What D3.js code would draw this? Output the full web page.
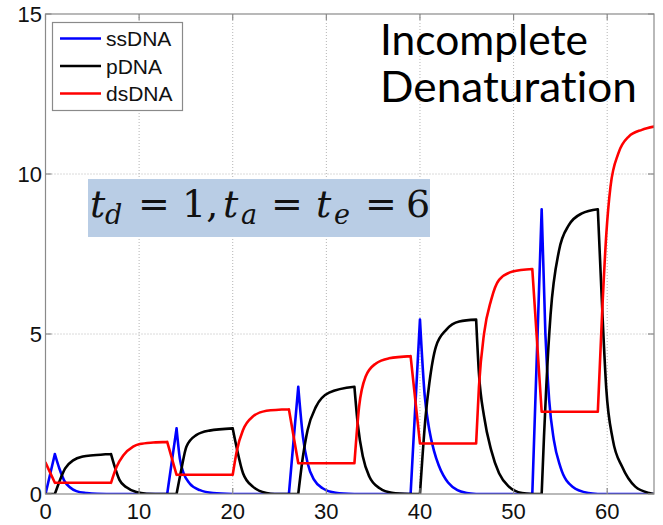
<!DOCTYPE html>
<html>
<head>
<meta charset="utf-8">
<script src="https://d3js.org/d3.v7.min.js"></script>
<style>
  body { margin: 0; background: #fff; }
  svg { display: block; }
</style>
</head>
<body>
<svg id="chart" width="663" height="525"></svg>
<script>
// Cycle phase boundaries (denaturation / annealing / extension)
const phaseTimes = [0, 1, 7, 13, 14, 20, 26, 27, 33, 39, 40, 46, 52, 53, 59, 65];

// Series values, [time, amount]
const ssDNA = [
    [0, 0], [1, 1.25], [1.5, 0.78], [2, 0.42], [2.6, 0.21], [3.3, 0.09], [4.4, 0.03], [5.5, 0.005], [7, 0], [13, 0],
    [14, 2.05], [14.35, 1.11], [14.75, 0.65], [15.4, 0.33], [16.5, 0.12], [17.9, 0.03], [20, 0], [26, 0],
    [27, 3.35], [27.5, 1.79], [28, 0.96], [28.7, 0.44], [29.6, 0.18], [31, 0.04], [33, 0], [39, 0],
    [40, 5.45], [40.5, 3.1], [41, 2.0], [41.5, 1.35], [42, 0.9], [42.5, 0.58], [43, 0.36], [44, 0.12], [45, 0.03], [46, 0], [52, 0],
    [53, 8.9], [53.4, 5.0], [53.8, 2.94], [54.3, 1.69], [55, 0.85], [56.3, 0.23], [58, 0.03], [59, 0], [65, 0]
];

const pDNA = [
    [0, 0], [1, 0], [1.55, 0.44], [2.1, 0.8], [3, 1.06], [4, 1.17], [5.1, 1.21], [7, 1.25],
    [7.4, 0.85], [7.9, 0.44], [8.65, 0.21], [9.7, 0.06], [10.8, 0.01], [13, 0], [14, 0],
    [14.5, 0.75], [15.05, 1.48], [16.1, 1.84], [17.5, 1.98], [20, 2.05],
    [20.4, 1.48], [21.1, 0.65], [22.15, 0.23], [23.6, 0.03], [24.5, 0], [26, 0], [27, 0],
    [27.5, 1.17], [28, 2.0], [28.9, 2.73], [30.3, 3.17], [33, 3.35],
    [33.35, 2.2], [33.9, 1.17], [34.6, 0.54], [35.7, 0.18], [37, 0.04], [39, 0], [40, 0],
    [40.6, 2.42], [41, 3.46], [41.7, 4.6], [42.8, 5.13], [44.2, 5.39], [46, 5.45],
    [46.3, 3.77], [46.85, 2.42], [47.6, 1.38], [48.45, 0.65], [49.5, 0.23], [50.9, 0.03], [52, 0], [53, 0],
    [53.25, 1.8], [53.5, 3.4], [53.95, 5.6], [54.85, 7.6], [55.9, 8.4], [57.3, 8.77], [59, 8.9],
    [59.45, 5.9], [59.9, 3.3], [60.6, 1.7], [61.6, 0.85], [63, 0.23], [64.5, 0.03], [65, 0]
];

const dsDNA = [
    [0, 0.98], [1, 0.35], [7, 0.35], [7.6, 0.85], [8.3, 1.2], [9.36, 1.48], [10.07, 1.56], [11.5, 1.61], [13, 1.63],
    [14, 0.6], [20, 0.6], [20.45, 1.37], [21.1, 2.0], [22.15, 2.42], [23.6, 2.6], [26, 2.65],
    [27, 0.96], [33, 0.96], [33.5, 2.73], [34.2, 3.67], [35.3, 4.08], [36.7, 4.24], [39, 4.31],
    [40, 1.58], [46, 1.58], [46.3, 3.35], [46.85, 5.02], [47.6, 6.06], [48.45, 6.69], [49.9, 6.95], [52, 7.03],
    [53, 2.57], [59, 2.57], [59.45, 5.6], [59.9, 8.1], [60.35, 9.6], [61.2, 10.65], [62.3, 11.17], [63.7, 11.38], [65, 11.48]
];

const seriesNames = ['ssDNA', 'pDNA', 'dsDNA'];
const seriesColors = ['#0000ff', '#000000', '#ff0000'];
const xTicks = [0, 10, 20, 30, 40, 50, 60];
const yTicks = [0, 5, 10, 15];

const svg = d3.select('#chart');

// Axes box
const box = { left: 45.5, right: 654, top: 14, bottom: 494 };

const xScale = d3.scaleLinear().domain([0, 65]).range([box.left, box.right]);
const yScale = d3.scaleLinear().domain([0, 15]).range([box.bottom, box.top]);

svg.append('rect').attr('width', 663).attr('height', 525).attr('fill', '#fff');

// Grid (dotted)
const grid = svg.append('g')
    .attr('stroke', '#b4b4b4')
    .attr('stroke-width', 1)
    .attr('stroke-dasharray', '1,2');

grid.selectAll('.gx')
    .data(xTicks.filter(d => d > 0))
    .join('line')
    .attr('x1', d => xScale(d)).attr('x2', d => xScale(d))
    .attr('y1', box.top).attr('y2', box.bottom);

grid.selectAll('.gy')
    .data(yTicks.filter(d => d > 0 && d < 15))
    .join('line')
    .attr('y1', d => yScale(d)).attr('y2', d => yScale(d))
    .attr('x1', box.left).attr('x2', box.right);

// Clip for the curves
svg.append('clipPath').attr('id', 'plot-clip')
    .append('rect')
    .attr('x', box.left).attr('y', box.top)
    .attr('width', box.right - box.left).attr('height', box.bottom - box.top);

// Split a series at phase boundaries so corners stay sharp
function splitSegments(points) {
    const segs = [];
    let cur = [points[0]];
    for (let i = 1; i < points.length; i++) {
        cur.push(points[i]);
        if (phaseTimes.includes(points[i][0])) {
            segs.push(cur);
            cur = [points[i]];
        }
    }
    if (cur.length > 1) segs.push(cur);
    return segs;
}

const line = d3.line()
    .x(d => xScale(d[0]))
    .y(d => yScale(d[1]))
    .curve(d3.curveMonotoneX);

const plot = svg.append('g').attr('clip-path', 'url(#plot-clip)');

[ssDNA, pDNA, dsDNA].forEach((series, i) => {
    const path = splitSegments(series).map(seg => line(seg)).join('');
    plot.append('path')
        .attr('d', path)
        .attr('fill', 'none')
        .attr('stroke', seriesColors[i])
        .attr('stroke-width', 2.6)
        .attr('stroke-linejoin', 'round')
        .attr('stroke-linecap', 'round');
});

// Axes box and inward ticks
const axisColor = '#8a8a8a';
svg.append('rect')
    .attr('x', box.left).attr('y', box.top)
    .attr('width', box.right - box.left).attr('height', box.bottom - box.top)
    .attr('fill', 'none').attr('stroke', axisColor).attr('stroke-width', 1.2);

const tickLen = 6;
const ticks = svg.append('g').attr('stroke', axisColor).attr('stroke-width', 1.2);
xTicks.forEach(t => {
    ticks.append('line').attr('x1', xScale(t)).attr('x2', xScale(t))
        .attr('y1', box.bottom).attr('y2', box.bottom - tickLen);
    ticks.append('line').attr('x1', xScale(t)).attr('x2', xScale(t))
        .attr('y1', box.top).attr('y2', box.top + tickLen);
});
yTicks.forEach(t => {
    ticks.append('line').attr('y1', yScale(t)).attr('y2', yScale(t))
        .attr('x1', box.left).attr('x2', box.left + tickLen);
    ticks.append('line').attr('y1', yScale(t)).attr('y2', yScale(t))
        .attr('x1', box.right).attr('x2', box.right - tickLen);
});

// Tick labels
const labelFont = '"Liberation Sans", Arial, sans-serif';
svg.selectAll('.xlab')
    .data(xTicks)
    .join('text')
    .attr('x', d => xScale(d))
    .attr('y', 519)
    .attr('text-anchor', 'middle')
    .attr('font-family', labelFont)
    .attr('font-size', 22)
    .attr('fill', '#111')
    .text(d => d);

svg.selectAll('.ylab')
    .data(yTicks)
    .join('text')
    .attr('x', 42)
    .attr('y', d => yScale(d) + 8)
    .attr('text-anchor', 'end')
    .attr('font-family', labelFont)
    .attr('font-size', 22)
    .attr('fill', '#111')
    .text(d => d);

// Legend
const legend = svg.append('g');
legend.append('rect')
    .attr('x', 52.5).attr('y', 22.5).attr('width', 130).attr('height', 88)
    .attr('fill', '#fff').attr('stroke', axisColor).attr('stroke-width', 1.2);

seriesNames.forEach((name, i) => {
    const ly = 38.5 + i * 27.5;
    legend.append('line')
        .attr('x1', 60).attr('x2', 101).attr('y1', ly).attr('y2', ly)
        .attr('stroke', seriesColors[i]).attr('stroke-width', 2.6);
    legend.append('text')
        .attr('x', 106).attr('y', ly + 7.5)
        .attr('font-family', labelFont)
        .attr('font-size', 21)
        .attr('fill', '#111')
        .text(name);
});

// Title text
const title = svg.append('g')
    .attr('font-family', 'Lato, "Open Sans", sans-serif')
    .attr('font-weight', 400)
    .attr('font-size', 42)
    .style('font-variant-ligatures', 'none')
    .attr('fill', '#000');
title.append('text').attr('x', 380).attr('y', 55)
    .attr('textLength', 208).attr('lengthAdjust', 'spacingAndGlyphs')
    .text('Incomplete');
title.append('text').attr('x', 380).attr('y', 102)
    .attr('textLength', 257).attr('lengthAdjust', 'spacingAndGlyphs')
    .text('Denaturation');

// Parameter annotation
svg.append('rect')
    .attr('x', 88).attr('y', 179).attr('width', 342).attr('height', 58)
    .attr('fill', '#b9cde5');

const mathFont = '"DejaVu Serif", serif';
const mathParts = [
    { x: 90, text: 't', italic: true },
    { x: 105, text: 'd', italic: true, sub: true },
    { x: 138, text: '=' },
    { x: 182, text: '1,' },
    { x: 223, text: 't', italic: true },
    { x: 241, text: 'a', italic: true, sub: true },
    { x: 271, text: '=' },
    { x: 316, text: 't', italic: true },
    { x: 334, text: 'e', italic: true, sub: true },
    { x: 365, text: '=' },
    { x: 406, text: '6' }
];
svg.append('g').selectAll('text')
    .data(mathParts)
    .join('text')
    .attr('x', d => d.x)
    .attr('y', d => d.sub ? 224 : 217)
    .attr('font-family', mathFont)
    .attr('font-size', d => d.sub ? 27 : 38)
    .attr('font-style', d => d.italic ? 'italic' : 'normal')
    .attr('fill', '#111')
    .text(d => d.text);
</script>
</body>
</html>
